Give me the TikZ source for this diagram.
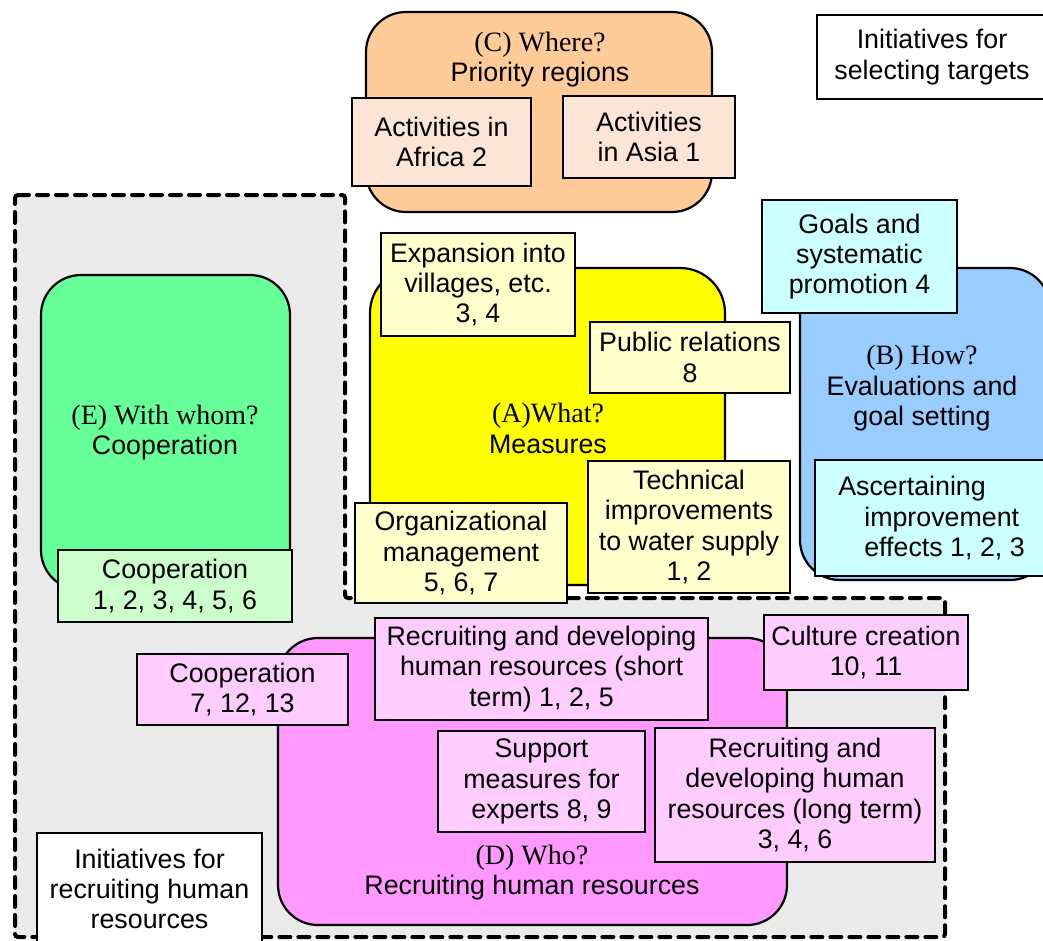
\documentclass[tikz,border=0pt]{standalone}
\usepackage{fontspec}
\setmainfont{Liberation Sans}
\newfontfamily\qfont{Liberation Serif}
\definecolor{orangeC}{HTML}{FFCC99}
\definecolor{peachC}{HTML}{FCE4D6}
\definecolor{yellowA}{HTML}{FFFF00}
\definecolor{paleA}{HTML}{FFFFCC}
\definecolor{blueB}{HTML}{99CCFF}
\definecolor{cyanB}{HTML}{CCFFFF}
\definecolor{greenE}{HTML}{66FF99}
\definecolor{paleE}{HTML}{CCFFCC}
\definecolor{pinkD}{HTML}{FF99FF}
\definecolor{paleD}{HTML}{FFCCFF}
\definecolor{zoneGrey}{HTML}{EBEBEB}
\tikzset{
  bigbox/.style={draw, line width=2.2pt, rounded corners=40pt, inner sep=0pt},
  smallbox/.style={draw, line width=1.8pt, inner sep=0pt, align=center,
    font=\fontsize{26.8}{30.2}\selectfont},
  textup/.style={yshift=-2.5pt},
  titletext/.style={align=center, yshift=-2.5pt, font=\fontsize{26.8}{30.5}\selectfont},
}

\begin{document}
\begin{tikzpicture}[x=1pt, y=-1pt]
    \path[use as bounding box] (0,0) rectangle (1043,940);
    \clip (0,0) rectangle (1043,940);
    % zone for recruiting human resources
    \draw[fill=zoneGrey, line width=4pt, dash pattern=on 11pt off 8pt, line cap=round, rounded corners=3pt]
      (15,195) -- (345,195) -- (345,598) -- (945,598) -- (945,937) -- (15,937) -- cycle;
    \node[smallbox, fill=white, minimum width=230, minimum height=84] (selecting) at (932,57) {Initiatives for\\selecting targets};
    %(C)
    \node[bigbox, fill=orangeC, minimum width=346, minimum height=200] (where) at (539,112) {};
    \node[titletext] (whereT) at (540,57) {{\qfont\fontsize{28}{30}\selectfont (C) Where?}\\Priority regions};
    \node[smallbox, fill=peachC, minimum width=179, minimum height=88] (africa) at (441.5,142) {Activities in\\Africa 2};
    \node[smallbox, fill=peachC, minimum width=172, minimum height=82] (asia) at (649,137) {Activities\\in Asia 1};
    %(A)
    \node[bigbox, fill=yellowA, rounded corners=45pt, minimum width=355, minimum height=317] (what) at (547.5,426.5) {};
    \node[titletext] (whatT) at (548,426) {{\qfont\fontsize{28}{32}\selectfont (A)What?}\\Measures};
    \node[smallbox, fill=paleA, minimum width=194, minimum height=103] (villages) at (478,284.5) {Expansion into\\villages, etc.\\3, 4};
    \node[smallbox, fill=paleA, minimum width=200, minimum height=71] (publicrel) at (690,357.5) {Public relations\\8};
    \node[smallbox, fill=paleA, minimum width=212, minimum height=100] (organiz) at (461,553) {Organizational\\management\\5, 6, 7};
    \node[smallbox, fill=paleA, minimum width=202, minimum height=132] (technical) at (689,527) {Technical\\improvements\\to water supply\\1, 2};
    %(B)
    \node[bigbox, fill=blueB, minimum width=250, minimum height=312] (how) at (925,424) {};
    \node[titletext] (howT) at (922,386) {{\qfont\fontsize{28}{31}\selectfont (B) How?}\\Evaluations and\\goal setting};
    \node[smallbox, fill=cyanB, minimum width=195, minimum height=113] (goals) at (859.5,256.5) {Goals and\\systematic\\promotion 4};
    \node[smallbox, fill=cyanB, align=left, minimum width=233, minimum height=116] (ascert) at (931.5,518) {Ascertaining\\\hspace*{26pt}improvement\\\hspace*{26pt}effects 1, 2, 3};
    %(E)
    \node[bigbox, fill=greenE, minimum width=249, minimum height=315] (withwhom) at (165.5,432.5) {};
    \node[titletext] (withwhomT) at (165,430) {{\qfont\fontsize{28}{31}\selectfont (E) With whom?}\\Cooperation};
    \node[smallbox, fill=paleE, minimum width=234, minimum height=72] (coopE) at (175,586) {Cooperation\\1, 2, 3, 4, 5, 6};
    %(D)
    \node[bigbox, fill=pinkD, minimum width=509, minimum height=287] (who) at (532.5,781.5) {};
    \node[titletext] (whoT) at (532,870) {{\qfont\fontsize{28}{31}\selectfont (D) Who?}\\Recruiting human resources};
    \node[smallbox, fill=paleD, minimum width=211, minimum height=71] (coopD) at (242.5,689.5) {Cooperation\\7, 12, 13};
    \node[smallbox, fill=paleD, minimum width=333, minimum height=102] (shortterm) at (541.5,669) {Recruiting and developing\\human resources (short\\term) 1, 2, 5};
    \node[smallbox, fill=paleD, minimum width=204, minimum height=75] (culture) at (866,652.5) {Culture creation\\10, 11};
    \node[smallbox, fill=paleD, minimum width=207, minimum height=101] (support) at (541.5,781.5) {Support\\measures for\\experts 8, 9};
    \node[smallbox, fill=paleD, minimum width=280, minimum height=134] (longterm) at (795,795) {Recruiting and\\developing human\\resources (long term)\\3, 4, 6};
    \node[smallbox, fill=white, minimum width=225, minimum height=112] (recruiting) at (149.5,889) {Initiatives for\\recruiting human\\resources};
\end{tikzpicture}
\end{document}
